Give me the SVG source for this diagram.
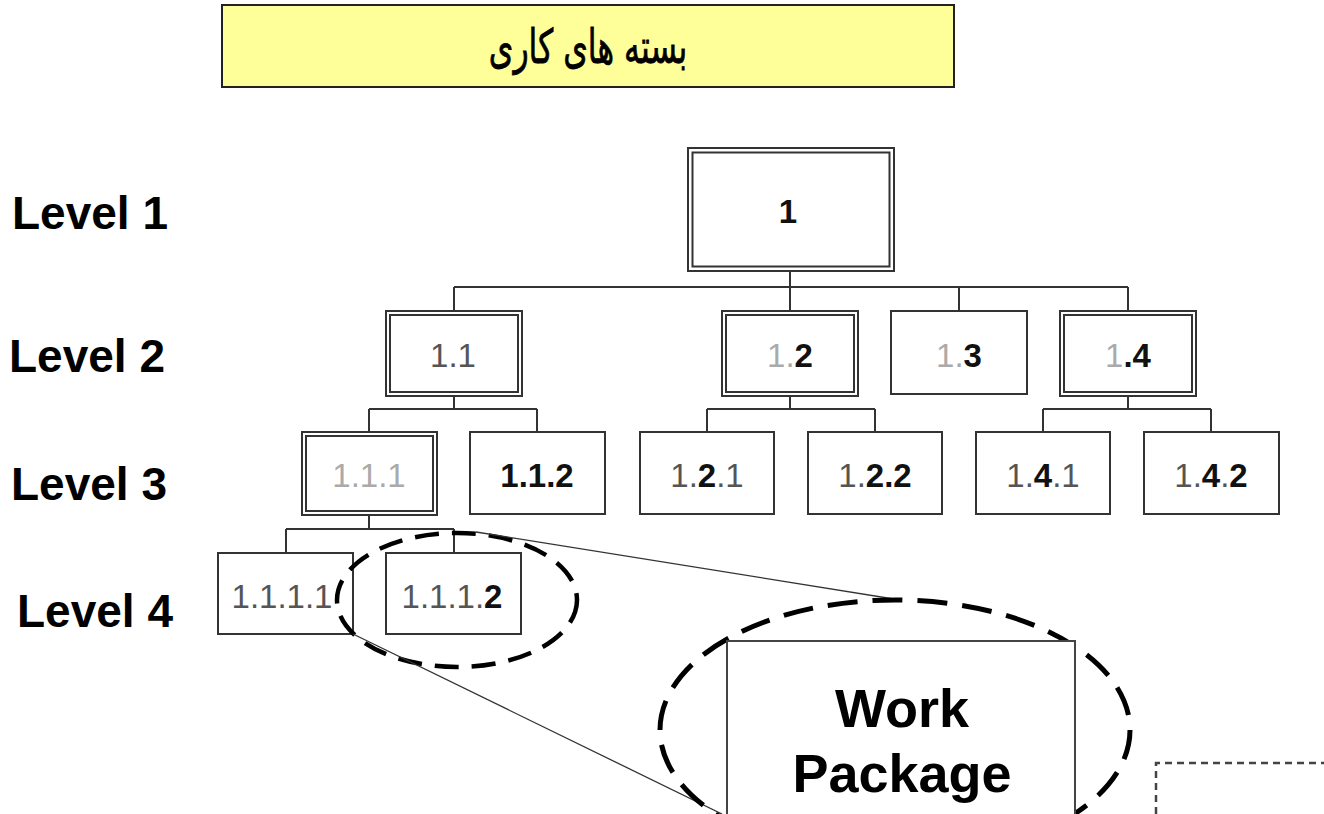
<svg xmlns="http://www.w3.org/2000/svg" width="1324" height="814" viewBox="0 0 1324 814">
  <style>
    .box { fill: #ffffff; stroke: #333333; stroke-width: 2; }
    .wire { fill: none; stroke: #333333; stroke-width: 2; }
    .lbl { font-family: "Liberation Sans", Arial, sans-serif; font-size: 33px; text-anchor: middle; fill: #555555; }
    .b { font-weight: bold; fill: #111111; }
    .f { fill: #aaaaaa; }
    .level { font-family: "Liberation Sans", Arial, sans-serif; font-size: 46px; font-weight: bold; fill: #000000; }
    .zoomline { fill: none; stroke: #333333; stroke-width: 1.3; }
  </style>

  <rect width="1324" height="814" fill="#ffffff"/>

  <!-- heading -->
  <g id="title">
    <rect x="222" y="5" width="732" height="82" fill="#ffff99" stroke="#222222" stroke-width="2"/>
    <text transform="translate(588 63) scale(0.9 1.35)" font-family="'DejaVu Sans', sans-serif" font-size="35" text-anchor="middle" fill="#000000" stroke="#000000" stroke-width="0.6" direction="rtl">بسته های کاری</text>
  </g>

  <!-- level captions -->
  <g id="levels">
    <text class="level" x="12" y="229">Level 1</text>
    <text class="level" x="9" y="372">Level 2</text>
    <text class="level" x="11" y="500">Level 3</text>
    <text class="level" x="17" y="627">Level 4</text>
  </g>

  <!-- tree connectors -->
  <g id="connectors">
    <path class="wire" d="M790 271 V287 M454 287 H1128 M454 287 V311 M790 287 V311 M959 287 V311 M1128 287 V311"/>
    <path class="wire" d="M454 396 V409 M369 409 H537 M369 409 V432 M537 409 V432"/>
    <path class="wire" d="M790 396 V409 M707 409 H875 M707 409 V432 M875 409 V432"/>
    <path class="wire" d="M1128 396 V409 M1043 409 H1211 M1043 409 V432 M1211 409 V432"/>
    <path class="wire" d="M369 515 V529 M286 529 H454 M286 529 V553 M454 529 V553"/>
  </g>

  <!-- level 1 -->
  <g id="n1">
    <rect class="box" x="688" y="148" width="206" height="123"/>
    <rect class="box" x="692.5" y="152.5" width="197" height="114"/>
    <text class="lbl" x="788" y="223" font-size="36"><tspan class="b" fill="#222">1</tspan></text>
  </g>

  <!-- level 2 -->
  <g id="n1-1">
    <rect class="box" x="386" y="311" width="136" height="85"/>
    <rect class="box" x="390" y="315" width="128" height="77"/>
    <text class="lbl" x="453" y="367">1.1</text>
  </g>
  <g id="n1-2">
    <rect class="box" x="722" y="311" width="136" height="85"/>
    <rect class="box" x="726" y="315" width="128" height="77"/>
    <text class="lbl" x="790" y="367"><tspan class="f">1.</tspan><tspan class="b">2</tspan></text>
  </g>
  <g id="n1-3">
    <rect class="box" x="891" y="311" width="136" height="83"/>
    <text class="lbl" x="959" y="367"><tspan class="f">1.</tspan><tspan class="b">3</tspan></text>
  </g>
  <g id="n1-4">
    <rect class="box" x="1060" y="311" width="136" height="85"/>
    <rect class="box" x="1064" y="315" width="128" height="77"/>
    <text class="lbl" x="1128" y="367"><tspan class="f">1</tspan><tspan class="b">.4</tspan></text>
  </g>

  <!-- level 3 -->
  <g id="n1-1-1">
    <rect class="box" x="302" y="432" width="135" height="83"/>
    <rect class="box" x="306" y="436" width="127" height="75"/>
    <text class="lbl f" x="369" y="487">1.1.1</text>
  </g>
  <g id="n1-1-2">
    <rect class="box" x="470" y="432" width="135" height="82"/>
    <text class="lbl b" x="537" y="487">1.1.2</text>
  </g>
  <g id="n1-2-1">
    <rect class="box" x="640" y="432" width="134" height="82"/>
    <text class="lbl" x="707" y="487">1.<tspan class="b">2</tspan>.1</text>
  </g>
  <g id="n1-2-2">
    <rect class="box" x="808" y="432" width="134" height="82"/>
    <text class="lbl" x="875" y="487">1.<tspan class="b">2.2</tspan></text>
  </g>
  <g id="n1-4-1">
    <rect class="box" x="976" y="432" width="134" height="82"/>
    <text class="lbl" x="1043" y="487">1.<tspan class="b">4</tspan>.1</text>
  </g>
  <g id="n1-4-2">
    <rect class="box" x="1144" y="432" width="135" height="82"/>
    <text class="lbl" x="1211" y="487">1.<tspan class="b">4</tspan>.<tspan class="b">2</tspan></text>
  </g>

  <!-- level 4 -->
  <g id="n1-1-1-1">
    <rect class="box" x="218" y="553" width="135" height="81"/>
    <text class="lbl" x="282" y="608">1.1.1.1</text>
  </g>
  <g id="n1-1-1-2">
    <rect class="box" x="386" y="553" width="135" height="81"/>
    <text class="lbl" x="452" y="608">1.1.1.<tspan class="b">2</tspan></text>
  </g>

  <!-- magnifier: small ring, projection lines, large ring -->
  <g id="magnifier">
    <ellipse cx="457" cy="600" rx="120" ry="67" fill="none" stroke="#000000" stroke-width="4.5" stroke-dasharray="24 13"/>
    <line class="zoomline" x1="476" y1="532" x2="900" y2="600"/>
    <line class="zoomline" x1="353" y1="634" x2="722" y2="814"/>
    <ellipse cx="895" cy="730" rx="235" ry="130" fill="none" stroke="#000000" stroke-width="5" stroke-dasharray="30 15"/>
  </g>

  <g id="work-package">
    <rect x="727" y="641" width="348" height="190" fill="#ffffff" stroke="#444444" stroke-width="2"/>
    <text x="902" y="727" font-family="'Liberation Sans', Arial, sans-serif" font-size="54" font-weight="bold" text-anchor="middle" fill="#000000">Work</text>
    <text x="902" y="792" font-family="'Liberation Sans', Arial, sans-serif" font-size="54" font-weight="bold" text-anchor="middle" fill="#000000">Package</text>
  </g>

  <!-- dashed frame at the lower right -->
  <g id="frame">
    <path d="M1156 814 V763 H1330" fill="none" stroke="#444444" stroke-width="2.5" stroke-dasharray="7 5"/>
  </g>
</svg>
